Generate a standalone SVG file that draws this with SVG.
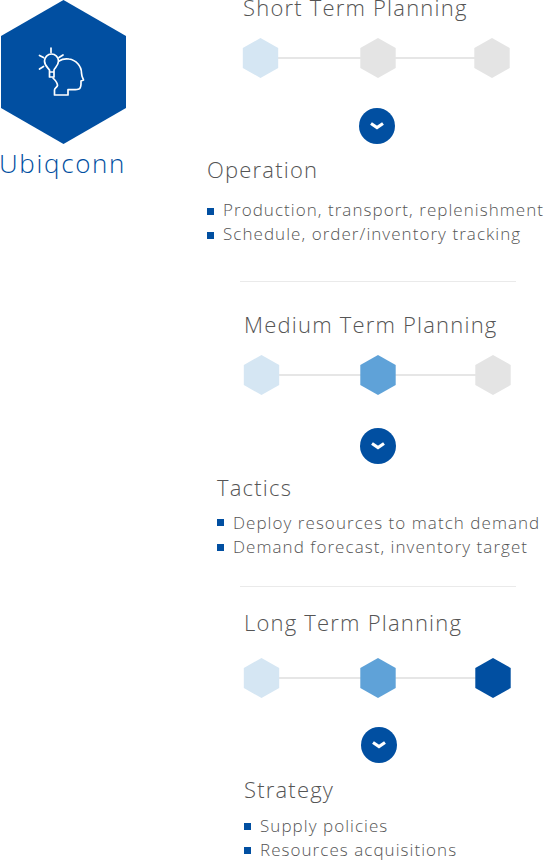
<svg xmlns="http://www.w3.org/2000/svg" width="548" height="860" viewBox="0 0 548 860">
<style>
text{font-family:"Open Sans","Liberation Sans",sans-serif;font-weight:300;fill:#555}
.h{font-size:22px;letter-spacing:1.2px}
.b{font-size:17px;letter-spacing:1.05px;fill:#555}
.c1{fill:#d5e6f3}.c2{fill:#e4e4e4}.c3{fill:#5fa2d8}.c4{fill:#014fa1}
.ln{stroke:#e6e6e6;stroke-width:2;fill:none}
.rule{stroke:#eaeaea;stroke-width:1;fill:none}
.ch{fill:none;stroke:#fff;stroke-width:3.2}
.ic{fill:none;stroke:#fff;stroke-width:1.7;stroke-linejoin:round;stroke-linecap:round}
</style>
<defs>
<polygon id="hx" points="0,-20 17.7,-10 17.7,10 0,20 -17.7,10 -17.7,-10"/>
<g id="dn"><circle r="18" class="c4"/><path class="ch" d="M-6,-2.500 L0,1.500 L6,-2.500"/></g>
</defs>
<g id="connectors">
<path class="ln" d="M278,58H492"/>
<path class="ln" d="M279,375H493"/>
<path class="ln" d="M279,678H493"/>
<path class="rule" d="M240,281.500H516"/>
<path class="rule" d="M240,586.500H516"/>
</g>
<g id="ubiqconn">
<polygon class="c4" points="63.500,0 126,36 126,108 63.500,144 1,108 1,36"/>
<path class="ic" d="M59,61 C62,59 66,58.500 69,59 C76,60 81.500,66 81.500,73 C81.500,75 82.500,78 83.500,80 L81,81 C81,84 81.500,88 79,89 C77,90 71,89.500 68,89.500 L68,95 L54.500,95 L54.500,90 C54.500,88 57,87.500 57.500,85.500 C57.500,83 55,80 53,78"/>
<path class="ic" d="M49.500,72 L49.500,70 C47.500,67.500 44.500,65.500 44.500,61 A7,7 0 1 1 58.500,61 C58.500,65.500 55,67.500 54,70 L54,77 L49.500,77 L49.500,72 L54,72"/>
<path class="ic" d="M51,48V52.500M39.500,55.500L43.500,57.500M63,55L59,57.500M39.500,69L43.500,66.500"/>
<text x="-1" y="173" style="font-size:26px;letter-spacing:1.65px;fill:#014fa1">Ubiqconn</text>
</g>
<g id="short-term">
<text class="h" x="243" y="16">Short Term Planning</text>
<use href="#hx" class="c1" x="260.500" y="58"/>
<use href="#hx" class="c2" x="378" y="58"/>
<use href="#hx" class="c2" x="492" y="58"/>
<use href="#dn" x="377" y="126"/>
</g>
<g id="operation">
<text class="h" x="207" y="178">Operation</text>
<rect class="c4" x="207" y="208" width="7" height="7"/>
<text class="b" x="223" y="216">Production, transport, replenishment</text>
<rect class="c4" x="207" y="232" width="7" height="7"/>
<text class="b" x="223" y="240">Schedule, order/inventory tracking</text>
</g>
<g id="medium-term">
<text class="h" x="244" y="333">Medium Term Planning</text>
<use href="#hx" class="c1" x="261.500" y="375"/>
<use href="#hx" class="c3" x="378" y="375"/>
<use href="#hx" class="c2" x="493" y="375"/>
<use href="#dn" x="378" y="446"/>
</g>
<g id="tactics">
<text class="h" x="217" y="496">Tactics</text>
<rect class="c4" x="217" y="519" width="7" height="7"/>
<text class="b" x="233" y="529">Deploy resources to match demand</text>
<rect class="c4" x="217" y="544" width="7" height="7"/>
<text class="b" x="233" y="553">Demand forecast, inventory target</text>
</g>
<g id="long-term">
<text class="h" x="244" y="631">Long Term Planning</text>
<use href="#hx" class="c1" x="261.500" y="678"/>
<use href="#hx" class="c3" x="378" y="678"/>
<use href="#hx" class="c4" x="493" y="678"/>
<use href="#dn" x="379" y="745"/>
</g>
<g id="strategy">
<text class="h" x="244" y="798">Strategy</text>
<rect class="c4" x="244" y="823" width="7" height="7"/>
<text class="b" x="260" y="832">Supply policies</text>
<rect class="c4" x="244" y="847" width="7" height="7"/>
<text class="b" x="260" y="856">Resources acquisitions</text>
</g>
</svg>
